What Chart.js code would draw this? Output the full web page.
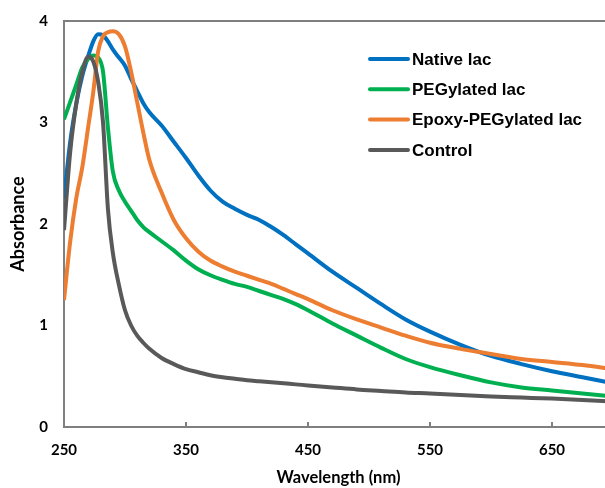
<!DOCTYPE html>
<html>
<head>
<meta charset="utf-8">
<title>Absorbance spectra</title>
<script src="https://cdn.jsdelivr.net/npm/chart.js@4"></script>
<style>
  html, body { margin:0; padding:0; overflow:hidden; background:#fff; }
  canvas { display:block; }
</style>
</head>
<body>
<canvas id="chart" width="615" height="488"></canvas>
<script>
// wavelength grid (nm) shared by all spectra
let wavelength = [250,255,260,265,270,274,278,282,286,290,295,300,305,310,315,320,330,340,350,360,
                  370,380,390,400,410,420,430,440,450,470,490,510,530,550,575,600,625,650,675,700];

let nativeLac = [2.25,2.80,3.18,3.46,3.66,3.80,3.87,3.86,3.80,3.72,3.64,3.56,3.43,3.31,3.19,3.10,2.97,2.81,2.65,2.48,
                 2.33,2.22,2.15,2.09,2.04,1.97,1.89,1.80,1.71,1.53,1.37,1.21,1.06,0.94,0.81,0.70,0.62,0.55,0.49,0.43];
let pegLac    = [3.03,3.20,3.37,3.54,3.63,3.66,3.64,3.50,2.95,2.52,2.33,2.22,2.13,2.04,1.97,1.92,1.83,1.74,1.64,1.555,
                 1.495,1.45,1.41,1.38,1.34,1.30,1.26,1.21,1.15,1.02,0.90,0.78,0.67,0.59,0.51,0.44,0.39,0.36,0.33,0.30];
let epoxyLac  = [1.25,1.82,2.25,2.56,2.97,3.30,3.70,3.85,3.89,3.90,3.87,3.75,3.50,3.20,2.90,2.63,2.31,2.04,1.86,1.73,
                 1.64,1.58,1.53,1.49,1.45,1.41,1.36,1.31,1.26,1.15,1.06,0.98,0.90,0.83,0.77,0.72,0.67,0.64,0.61,0.57];
let control   = [1.94,2.70,3.18,3.50,3.65,3.60,3.40,3.00,2.15,1.72,1.40,1.15,1.00,0.90,0.83,0.77,0.68,0.62,0.57,0.54,
                 0.51,0.49,0.475,0.46,0.45,0.44,0.43,0.42,0.41,0.39,0.37,0.355,0.34,0.33,0.315,0.30,0.29,0.28,0.265,0.25];

let labels = ["Native lac","PEGylated lac","Epoxy-PEGylated lac","Control"];
let colors = ["#0070C0","#00B050","#ED7D31","#595959"];
let series = [nativeLac, pegLac, epoxyLac, control];

let xTicks = [250,350,450,550,650];
let yTicks = [0,1,2,3,4];

const AXIS = "#7f7f7f";
const tickFont = {family:"Lato", size:15, weight:"bold"};

function toPoints(values){
  return values.map((v,i)=>({x:wavelength[i], y:v}));
}

// legend inside the plot, top border and inward x tick marks
const extras = {
  id:"extras",
  afterDatasetsDraw(chart){
    const {ctx, chartArea} = chart;
    const xs = chart.scales.x;
    ctx.save();
    ctx.strokeStyle = AXIS; ctx.lineWidth = 2;
    ctx.beginPath();
    ctx.moveTo(chartArea.left, chartArea.top);
    ctx.lineTo(chartArea.right, chartArea.top);
    ctx.stroke();
    xs.ticks.forEach(t=>{
      if(t.value<=xs.min || t.value>=xs.max) return;
      let px = xs.getPixelForValue(t.value);
      ctx.beginPath();
      ctx.moveTo(px, chartArea.bottom);
      ctx.lineTo(px, chartArea.bottom-5);
      ctx.stroke();
    });
    chart.data.datasets.forEach((ds,i)=>{
      let x = chartArea.left + 306;
      let y = chartArea.top + 38 + i*30.3;
      ctx.strokeStyle = ds.borderColor; ctx.lineWidth = 4; ctx.lineCap = "round";
      ctx.beginPath(); ctx.moveTo(x,y); ctx.lineTo(x+38,y); ctx.stroke();
      ctx.fillStyle = "#000";
      ctx.font = 'bold 17px "Liberation Sans"';
      ctx.textBaseline = "middle";
      ctx.fillText(ds.label, x+42, y+1);
    });
    ctx.restore();
  }
};

new Chart(document.getElementById("chart"), {
  type:"line",
  data:{
    datasets: series.map((s,i)=>({
      label: labels[i],
      data: toPoints(s),
      borderColor: colors[i],
      backgroundColor: colors[i],
      borderWidth: 4,
      pointRadius: 0,
      cubicInterpolationMode: "monotone",
      order: 4-i
    }))
  },
  options:{
    responsive:false,
    animation:false,
    layout:{padding:{top:21, right:2, left:0, bottom:0}},
    plugins:{legend:{display:false}, tooltip:{enabled:false}},
    scales:{
      x:{
        type:"linear", min:250, max:700,
        afterFit: s => { s.height = 61; },
        afterBuildTicks: s => { s.ticks = xTicks.map(v=>({value:v})); },
        ticks:{color:"#000", font:tickFont, padding:14, maxRotation:0},
        grid:{drawOnChartArea:false, drawTicks:false},
        border:{color:AXIS, width:2},
        title:{display:true, text:"Wavelength (nm)", color:"#000", font:{family:"Lato", size:16.5, weight:"bold"}, padding:{top:0,bottom:0}}
      },
      y:{
        min:0, max:4,
        afterFit: s => { s.width = 64; s.paddingTop = 0; s.paddingBottom = 0; },
        afterBuildTicks: s => { s.ticks = yTicks.map(v=>({value:v})); },
        ticks:{color:"#000", font:tickFont, padding:16},
        grid:{drawOnChartArea:false, drawTicks:false},
        border:{color:AXIS, width:2},
        title:{display:true, text:"Absorbance", color:"#000", font:{family:"Lato", size:18, weight:"bold"}, padding:{top:7,bottom:0}}
      }
    }
  },
  plugins:[extras]
});
</script>
</body>
</html>
